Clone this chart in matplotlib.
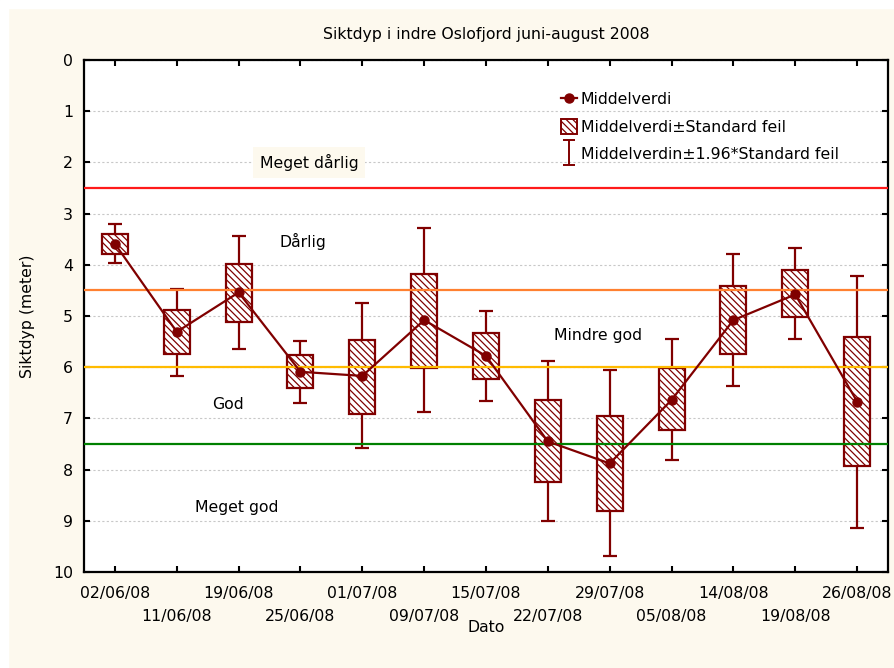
import matplotlib
matplotlib.use("Agg")
import matplotlib.pyplot as plt
from matplotlib.lines import Line2D
from matplotlib.patches import Patch, Rectangle
from matplotlib.path import Path
from matplotlib.ticker import FixedLocator

plt.rcParams['font.family'] = ['DejaVu Sans']
plt.rcParams['hatch.linewidth'] = 0.9

# ---- data ----
dates = ["02/06/08", "11/06/08", "19/06/08", "25/06/08", "01/07/08", "09/07/08", "15/07/08",
         "22/07/08", "29/07/08", "05/08/08", "14/08/08", "19/08/08", "26/08/08"]
mean = [3.59, 5.31, 4.54, 6.09, 6.17, 5.08, 5.78, 7.45, 7.88, 6.64, 5.08, 4.58, 6.67]
se_low = [3.39, 4.88, 3.98, 5.77, 5.46, 4.17, 5.34, 6.64, 6.95, 6.02, 4.41, 4.11, 5.41]
se_high = [3.78, 5.75, 5.11, 6.40, 6.91, 6.01, 6.23, 8.25, 8.80, 7.23, 5.74, 5.01, 7.93]
ci_low = [3.20, 4.47, 3.43, 5.48, 4.75, 3.28, 4.90, 5.88, 6.05, 5.44, 3.78, 3.68, 4.21]
ci_high = [3.97, 6.17, 5.65, 6.69, 7.58, 6.88, 6.66, 9.00, 9.68, 7.81, 6.36, 5.44, 9.14]

class_limits = [2.5, 4.5, 6.0, 7.5]
class_colors = ["#ff1a1a", "#ff8030", "#ffbb00", "#008000"]
class_names = ["Meget dårlig", "Dårlig", "Mindre god", "God", "Meget god"]
class_label_pos = [(3.14, 2.01), (3.04, 3.54), (7.81, 5.38), (1.83, 6.72), (1.97, 8.74)]

legend_labels = ["Middelverdi", "Middelverdi±Standard feil", "Middelverdin±1.96*Standard feil"]

DARK = "#800000"
CREAM = "#fdf9ee"
FS = 11.3
HATCH = '\\' * 5

fig = plt.figure(figsize=(8.95, 6.68), dpi=100, facecolor=CREAM)
fig.patches.append(Rectangle((0, 0), 8 / 895, 1, transform=fig.transFigure, color="white", zorder=-10))
fig.patches.append(Rectangle((0, 1 - 8 / 668), 1, 8 / 668, transform=fig.transFigure, color="white", zorder=-10))

ax = fig.add_axes([84 / 895, 1 - 572 / 668, 804 / 895, 512 / 668])
ax.set_facecolor("white")

x = list(range(len(dates)))

# whiskers (1.96*SE)
yerr = [[m - lo for m, lo in zip(mean, ci_low)], [hi - m for m, hi in zip(mean, ci_high)]]
ax.errorbar(x, mean, yerr=yerr, fmt='none', ecolor=DARK, elinewidth=1.6,
            capsize=4.8, capthick=1.6, zorder=2)

# boxes (SE)
heights = [h - l for h, l in zip(se_high, se_low)]
ax.bar(x, heights, bottom=se_low, width=0.42, facecolor="white", edgecolor=DARK,
       linewidth=1.6, hatch=HATCH, zorder=3)

# class lines
for lim, col in zip(class_limits, class_colors):
    ax.axhline(lim, color=col, lw=1.6, zorder=4)

# mean line
ax.plot(x, mean, color=DARK, lw=1.6, marker='o', markersize=6.5, zorder=5)

# class labels
for i, (name, (px, py)) in enumerate(zip(class_names, class_label_pos)):
    kw = {}
    if i == 0:
        kw['bbox'] = dict(facecolor=CREAM, edgecolor='none', pad=5)
    ax.text(px, py, name, ha='center', va='center', fontsize=FS, color='black', zorder=6, **kw)

ax.set_xlim(-0.5, len(dates) - 0.5)
ax.set_ylim(10, 0)
ax.set_yticks(range(0, 11))
ax.grid(axis='y', color='#c8c8c8', linestyle=(0, (2, 2)), linewidth=0.8, zorder=0)
ax.set_axisbelow(True)

ax.xaxis.set_major_locator(FixedLocator(x[0::2]))
ax.xaxis.set_minor_locator(FixedLocator(x[1::2]))
ax.set_xticklabels(dates[0::2])
ax.set_xticklabels(dates[1::2], minor=True)
ax.tick_params(axis='both', which='both', direction='in', length=4, width=1.5,
               top=True, right=True, labelsize=FS)
ax.tick_params(axis='x', which='major', pad=10)
ax.tick_params(axis='x', which='minor', pad=26.5)
ax.tick_params(axis='y', pad=8)

for s in ax.spines.values():
    s.set_linewidth(1.6)

# legend
ibeam = Path([(-0.5, -1), (0.5, -1), (0, -1), (0, 1), (-0.5, 1), (0.5, 1)],
             [Path.MOVETO, Path.LINETO, Path.MOVETO, Path.LINETO, Path.MOVETO, Path.LINETO])
handles = [
    Line2D([], [], color=DARK, lw=1.6, marker='o', markersize=6.5),
    Patch(facecolor='white', edgecolor=DARK, hatch=HATCH, linewidth=1.4),
    Line2D([], [], linestyle='none', marker=ibeam, markersize=18, markeredgecolor=DARK,
           markerfacecolor='none', markeredgewidth=1.4),
]
leg = ax.legend(handles, legend_labels, loc='upper left', bbox_to_anchor=(0.58, 0.96),
                frameon=False, fontsize=FS, handlelength=1.0, handleheight=1.1,
                handletextpad=0.25, labelspacing=0.72, borderpad=0.2)

fig.text(486 / 895, 1 - 35 / 668, "Siktdyp i indre Oslofjord juni-august 2008",
         ha='center', va='center', fontsize=FS)
fig.text(28 / 895, 1 - 316 / 668, "Siktdyp (meter)", rotation=90, ha='center', va='center', fontsize=FS)
fig.text(486 / 895, 1 - 627 / 668, "Dato", ha='center', va='center', fontsize=FS)

fig.savefig("out.png", dpi=100, facecolor=CREAM)
